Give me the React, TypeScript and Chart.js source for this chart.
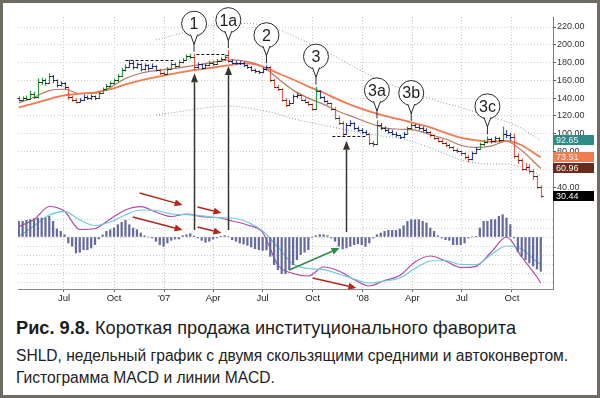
import React, { useEffect, useRef } from 'react';
import { Chart, registerables } from 'chart.js';
Chart.register(...registerables);

const FONT = '"Liberation Sans", Arial, Helvetica, sans-serif';
const FIRST_WEEK = 14; // weeks since 2006-01-01 of the first weekly bar

const monthTickWeeks = [25.86, 39, 52.14, 65, 78, 91.14, 104.29, 117.29, 130.29, 143.43];
const monthTickLabels = ['Jul', 'Oct', "'07", 'Apr', 'Jul', 'Oct', "'08", 'Apr', 'Jul', 'Oct'];
const priceTicks = [40, 60, 80, 100, 120, 140, 160, 180, 200, 220];
const macdGridTicks = [-45, -36, -27, -18, -9, 0, 9, 18];

const opens = [
  140, 138, 140, 139, 145, 141, 158, 160, 157, 165,
  160, 155, 157, 152, 141, 138, 136, 138, 141, 140,
  142, 140, 146, 150, 154, 157, 160, 165, 172, 175,
  180, 175, 178, 173, 177, 174, 176, 172, 168, 167,
  173, 178, 176, 181, 183, 187, 186, 175, 178, 174,
  177, 180, 178, 182, 184, 188, 182, 180, 179, 180,
  177, 175, 172, 170, 169, 173, 175, 160, 153, 150,
  138, 132, 135, 142, 143, 138, 136, 133, 128, 148,
  141, 137, 134, 128, 118, 112, 100, 110, 112, 106,
  104, 102, 100, 90, 88, 110, 106, 104, 102, 100,
  98, 96, 100, 106, 110, 108, 106, 104, 102, 98,
  95, 92, 90, 87, 85, 82, 80, 78, 74, 72,
  78, 83, 88, 91, 94, 92, 95, 93, 100, 98,
  96, 75, 70, 60, 63, 58, 52, 40,
];
const highs = [
  142, 142, 143, 148, 147, 162, 163, 162, 168, 166,
  161, 159, 158, 153, 143, 140, 140, 144, 143, 144,
  143, 148, 152, 156, 159, 162, 167, 174, 178, 183,
  182, 180, 179, 179, 178, 179, 177, 173, 170, 175,
  181, 180, 183, 185, 189, 190, 190, 180, 179, 179,
  182, 182, 184, 186, 189, 194, 184, 182, 182, 181,
  178, 176, 173, 171, 175, 177, 176, 162, 155, 151,
  140, 138, 144, 146, 144, 140, 137, 134, 153, 149,
  142, 138, 135, 130, 120, 114, 112, 115, 113, 108,
  106, 104, 101, 92, 115, 112, 108, 106, 104, 102,
  99, 102, 108, 112, 111, 110, 108, 106, 103, 99,
  96, 94, 91, 89, 86, 84, 81, 79, 76, 80,
  85, 90, 93, 97, 95, 97, 96, 108, 104, 101,
  100, 78, 72, 67, 66, 60, 53, 42,
];
const lows = [
  136, 137, 137, 138, 139, 140, 155, 154, 156, 157,
  152, 153, 150, 138, 136, 134, 135, 137, 138, 138,
  138, 139, 145, 148, 152, 155, 158, 164, 170, 174,
  172, 173, 170, 171, 171, 173, 170, 166, 165, 166,
  172, 174, 175, 179, 182, 184, 171, 173, 172, 173,
  176, 176, 177, 181, 183, 180, 178, 177, 177, 175,
  173, 170, 168, 167, 168, 171, 158, 151, 148, 136,
  130, 131, 134, 140, 137, 134, 131, 126, 127, 139,
  135, 132, 126, 116, 110, 96, 99, 108, 104, 102,
  100, 98, 87, 85, 87, 104, 102, 100, 98, 96,
  94, 95, 99, 104, 106, 104, 102, 100, 96, 93,
  90, 88, 85, 83, 80, 78, 75, 71, 68, 70,
  77, 82, 86, 89, 89, 90, 90, 92, 95, 92,
  72, 66, 58, 58, 55, 48, 38, 28,
];
const closes = [
  138, 140, 139, 145, 141, 158, 160, 157, 165, 160,
  155, 157, 152, 141, 138, 136, 138, 141, 140, 142,
  140, 146, 150, 154, 157, 160, 165, 172, 175, 180,
  175, 178, 173, 177, 174, 176, 172, 168, 167, 173,
  178, 176, 181, 183, 187, 186, 175, 178, 174, 177,
  180, 178, 182, 184, 186, 182, 180, 179, 180, 177,
  175, 172, 170, 169, 173, 175, 160, 153, 150, 138,
  132, 135, 142, 143, 138, 136, 133, 128, 148, 141,
  137, 134, 128, 118, 112, 100, 110, 112, 106, 104,
  102, 100, 90, 88, 110, 106, 104, 102, 100, 98,
  96, 100, 106, 110, 108, 106, 104, 102, 98, 95,
  92, 90, 87, 85, 82, 80, 78, 74, 72, 78,
  83, 88, 91, 94, 92, 95, 93, 100, 98, 96,
  75, 70, 60, 63, 58, 52, 40, 30.44,
];
// Elder impulse colour of each bar: g = green, b = blue, r = red
const impulse =
  'ggggggggg' + 'bbbb' + 'rrr' + 'bbbbb' + 'gggggggg' + 'bbbbbbbb' + 'rr' + 'ggggggg' + 'r' +
  'bbb' + 'ggggg' + 'r' + 'bbbbbbbbbb' + 'rrrrr' + 'bbb' + 'rrrr' + 'g' + 'bb' + 'rrrrr' +
  'bbbbbb' + 'rr' + 'g' + 'bbbbbbb' + 'gg' + 'bbbb' + 'rrrrrrrrrrr' + 'bb' + 'ggg' + 'bbb' +
  'g' + 'bb' + 'rrrrrrrr';

const lineBars = [0, 4, 8, 12, 16, 20, 24, 28, 32, 36, 40, 44, 48, 52, 56, 60, 64, 68, 72, 76, 80, 84, 88, 92, 96, 100, 104, 108, 112, 116, 120, 124, 128, 132, 136, 137];
const emaFast = [134.5, 141, 148.5, 150, 145, 145.5, 152, 162, 168, 171, 173, 175.5, 178, 181, 183, 181, 175.5, 162, 149, 140, 133, 125, 118.5, 112, 106.5, 105, 104, 99, 94, 87, 84.5, 86, 91.5, 81, 65, 60.96];
const emaSlow = [129.5, 134, 139, 143, 145, 146.5, 150, 155.5, 160, 163.5, 167, 170, 172.5, 175, 177.5, 179, 175.5, 168, 161, 153, 146, 138, 131, 125, 120, 116, 111.5, 107, 101, 95.5, 92.5, 91, 92, 87, 76, 73.51];
const envBars = [36, 40, 44, 48, 52, 56, 60, 64, 68, 72, 76, 80, 84, 88, 92, 96, 100, 104, 108, 112, 116, 120, 124, 128, 132, 136, 137];
const envUpper = [205.5, 210, 214.5, 220, 222.5, 223.5, 224, 222, 217.5, 210, 202, 194, 184.5, 175, 166, 158, 151.5, 145, 139.5, 134, 129.5, 124, 119, 113.5, 106, 95, 92.65];
const envLower = [121, 123.5, 126, 128.5, 130.5, 131, 129, 126, 122, 117, 113, 109.5, 106, 102.5, 99.5, 97, 95, 90, 84, 77, 70.5, 67, 66, 66, 62, 55, 53];

const macdLine = [10.5, 17.5, 30.5, 25.7, 7.5, 8.5, 18, 27, 30.3, 25, 20.5, 23, 20.3, 19.5, 16, 12, 4.5, -28, -36.5, -39, -30, -34, -42.5, -49, -43.5, -38.5, -25, -19, -24, -30.5, -29.3, -15, 0, -20, -40, -46];
const macdSignal = [0.5, 11, 22, 25.7, 17, 11.5, 15, 22, 27, 26.5, 23, 22.3, 21.2, 19.3, 19, 15, 6, -10, -27, -31.5, -32.7, -37, -42, -46, -44, -41, -31.5, -24, -23.5, -27.5, -27.7, -17.5, -9, -12, -25, -27.7];
const macdHist = [
  15.7, 15.7, 16.7, 17.3, 18.3, 19, 19, 19, 20.7, 15.7,
  8, 5.7, 2.3, -6, -9.3, -16, -15.3, -12.7, -12.7, -11,
  -7.7, -2, 2, 5.7, 7.3, 9, 12.3, 14.7, 16.7, 12.3,
  9, 7.3, 4, 1.3, 0, -1, -4.3, -7.7, -9.3, -6,
  -3.3, -2, -2, 1.3, 2.3, 3.3, 1, -1, -3.3, -5.3,
  -4.3, -2, -1, 0.7, 1.3, 0.5, -2.7, -4.3, -6, -7,
  -8.3, -10, -11.7, -12.7, -13.3, -13, -19.3, -27.7, -32.7, -36.7,
  -36.7, -32.7, -27.7, -22.7, -17.7, -15.3, -12.7, -0.5, 1.3, 2.3,
  2.3, 1.3, -1, -4.3, -9.3, -12, -11, -9.3, -7.7, -6.7,
  -7.7, -9.3, -6, -1, 2.3, 4, 5.7, 6.7, 6.7, 6.7,
  8, 11.3, 15.7, 17.3, 17.3, 17.3, 15.7, 14, 9, 5.7,
  1.3, -1, -2.7, -3.3, -7.7, -7.7, -7.7, -6, -1, 0,
  0.7, 9, 15.7, 15.7, 17.3, 17.3, 20.7, 22.3, 19, 12.3,
  -1, -15, -19.3, -22.7, -26, -29, -32, -34.3,
];

const callouts = [
  { label: '1', bar: 46 }, { label: '1a', bar: 55 }, { label: '2', bar: 65 }, { label: '3', bar: 78 },
  { label: '3a', bar: 94 }, { label: '3b', bar: 103 }, { label: '3c', bar: 123 },
];
const levelLines = [
  { from: 28, to: 41, price: 183 },
  { from: 46.6, to: 54.5, price: 190 },
  { from: 82.3, to: 91.3, price: 97 },
];
const pointerArrows = [
  { bar: 46, price: 168, macd: 7 },
  { bar: 55, price: 176, macd: 7 },
  { bar: 86, price: 92, macd: 5 },
];
const RED = '#b3281c';
const GREEN = '#2f8a4a';
const trendArrows = [
  { b1: 31.7, m1: 44, b2: 43, m2: 32, color: RED },
  { b1: 29.9, m1: 20, b2: 43, m2: 7, color: RED },
  { b1: 46.9, m1: 30, b2: 53.2, m2: 24, color: RED },
  { b1: 46.9, m1: 10, b2: 53.2, m2: 4, color: RED },
  { b1: 77.1, m1: -41, b2: 88.6, m2: -51, color: RED },
  { b1: 71, m1: -33, b2: 84.2, m2: -11, color: GREEN },
];
const lastLabels = [
  { value: envUpper[envUpper.length - 1], bg: '#2e8c86' },
  { value: emaSlow[emaSlow.length - 1], bg: '#f07c50' },
  { value: emaFast[emaFast.length - 1], bg: '#6b2b1c' },
  { value: closes[closes.length - 1], bg: '#000000' },
];

const barColors: Record<string, string> = { g: '#2f9a44', b: '#3848a8', r: '#e8604c' };

function drawArrow(ctx: CanvasRenderingContext2D, x1: number, y1: number, x2: number, y2: number,
  color: string, width: number, headLen: number, headHalf: number) {
  const ang = Math.atan2(y2 - y1, x2 - x1);
  const bx = x2 - headLen * Math.cos(ang);
  const by = y2 - headLen * Math.sin(ang);
  ctx.strokeStyle = color;
  ctx.lineWidth = width;
  ctx.setLineDash([]);
  ctx.beginPath();
  ctx.moveTo(x1, y1);
  ctx.lineTo(bx, by);
  ctx.stroke();
  ctx.fillStyle = color;
  ctx.beginPath();
  ctx.moveTo(x2, y2);
  ctx.lineTo(bx + headHalf * Math.sin(ang), by - headHalf * Math.cos(ang));
  ctx.lineTo(bx - headHalf * Math.sin(ang), by + headHalf * Math.cos(ang));
  ctx.closePath();
  ctx.fill();
}

const ohlcPlugin = {
  id: 'ohlc',
  afterDatasetsDraw(chart: any) {
    const { ctx, scales } = chart;
    const x = scales.x, yp = scales.yp;
    ctx.save();
    for (let i = 0; i < closes.length; i++) {
      const px = Math.round(x.getPixelForValue(FIRST_WEEK + i)) + 0.5;
      const yh = yp.getPixelForValue(highs[i]);
      const yl = yp.getPixelForValue(lows[i]);
      const yo = Math.round(yp.getPixelForValue(opens[i])) + 0.5;
      const yc = Math.round(yp.getPixelForValue(closes[i])) + 0.5;
      ctx.strokeStyle = barColors[impulse[i]] || '#333';
      ctx.lineWidth = 1.2;
      ctx.beginPath();
      ctx.moveTo(px, yh);
      ctx.lineTo(px, yl);
      ctx.stroke();
      ctx.strokeStyle = '#1a1a1a';
      ctx.lineWidth = 1;
      ctx.beginPath();
      ctx.moveTo(px - 2, yo);
      ctx.lineTo(px, yo);
      ctx.moveTo(px, yc);
      ctx.lineTo(px + 2, yc);
      ctx.stroke();
    }
    ctx.restore();
  },
};

const annotationPlugin = {
  id: 'annotations',
  afterDraw(chart: any) {
    const { ctx, scales } = chart;
    const x = scales.x, yp = scales.yp, ym = scales.ym;
    const bx = (b: number) => x.getPixelForValue(FIRST_WEEK + b);
    ctx.save();

    // dashed level lines
    ctx.strokeStyle = '#111';
    ctx.lineWidth = 1;
    ctx.setLineDash([3, 2]);
    for (const l of levelLines) {
      const y = Math.round(yp.getPixelForValue(l.price)) + 0.5;
      ctx.beginPath();
      ctx.moveTo(bx(l.from), y);
      ctx.lineTo(bx(l.to), y);
      ctx.stroke();
    }
    ctx.setLineDash([]);

    // vertical pointer arrows from MACD to price
    for (const a of pointerArrows) {
      const px = Math.round(bx(a.bar)) + 0.5;
      drawArrow(ctx, px, ym.getPixelForValue(a.macd), px, yp.getPixelForValue(a.price), '#3a332c', 1.5, 9, 3.5);
    }

    // divergence arrows in MACD pane
    for (const a of trendArrows) {
      drawArrow(ctx, bx(a.b1), ym.getPixelForValue(a.m1), bx(a.b2), ym.getPixelForValue(a.m2), a.color, 1.5, 8, 3.5);
    }

    // callouts
    for (const c of callouts) {
      const cx = bx(c.bar);
      const top = yp.getPixelForValue(highs[c.bar]);
      const r = 12.5;
      const cy = top - 30;
      ctx.strokeStyle = '#2a2a2a';
      ctx.lineWidth = 1;
      ctx.beginPath();
      ctx.moveTo(cx, cy + r + 6);
      ctx.lineTo(cx, top - 2);
      ctx.stroke();
      ctx.beginPath();
      ctx.arc(cx, cy, r, 0, Math.PI * 2);
      ctx.fillStyle = '#fff';
      ctx.fill();
      ctx.stroke();
      ctx.beginPath();
      ctx.moveTo(cx - 3.5, cy + r - 1.5);
      ctx.lineTo(cx, cy + r + 8);
      ctx.lineTo(cx + 3.5, cy + r - 1.5);
      ctx.fill();
      ctx.stroke();
      ctx.fillStyle = '#1e1e1e';
      ctx.font = `16px ${FONT}`;
      ctx.textAlign = 'center';
      ctx.textBaseline = 'middle';
      ctx.fillText(c.label, cx, cy + 1);
    }

    // last-value boxes on the price axis
    const left = chart.chartArea.right;
    ctx.font = `9px ${FONT}`;
    ctx.textAlign = 'left';
    ctx.textBaseline = 'middle';
    for (const l of lastLabels) {
      const y = yp.getPixelForValue(l.value);
      ctx.fillStyle = l.bg;
      ctx.fillRect(left, Math.round(y - 5), 41, 10);
      ctx.fillStyle = '#f4f4f4';
      ctx.fillText(l.value.toFixed(2), left + 3, Math.round(y) + 0.5);
    }
    ctx.restore();
  },
};

export default function App() {
  const ref = useRef<HTMLCanvasElement>(null);
  useEffect(() => {
    document.body.style.margin = '0';
    const pts = (bars: number[], vals: number[]) => bars.map((b, k) => ({ x: FIRST_WEEK + b, y: vals[k] }));
    const lineDs = (data: any[], color: string, width: number, axis: string, dash: number[] = []) => ({
      type: 'line',
      data,
      yAxisID: axis,
      borderColor: color,
      borderWidth: width,
      borderDash: dash,
      pointRadius: 0,
      fill: false,
      cubicInterpolationMode: 'monotone',
    });
    const chart = new Chart(ref.current as HTMLCanvasElement, {
      type: 'line',
      data: {
        datasets: [
          {
            type: 'bar',
            data: macdHist.map((v, i) => ({ x: FIRST_WEEK + i, y: v })),
            yAxisID: 'ym',
            backgroundColor: '#676b9c',
            barThickness: 1.6,
            grouped: false,
          } as any,
          lineDs(pts(lineBars, macdSignal), '#6ccbe0', 1.2, 'ym'),
          lineDs(pts(lineBars, macdLine), '#b04aa8', 1.2, 'ym'),
          lineDs(pts(envBars, envUpper), '#7f9eab', 1, 'yp', [1, 2]),
          lineDs(pts(envBars, envLower), '#7f9eab', 1, 'yp', [1, 2]),
          lineDs(pts(lineBars, emaSlow), '#f27a52', 1.8, 'yp'),
          lineDs(pts(lineBars, emaFast), '#b9775f', 1.2, 'yp'),
        ] as any,
      },
      options: {
        responsive: false,
        animation: false,
        devicePixelRatio: 1,
        layout: { padding: { left: 18, top: 17, right: 0, bottom: 0 } },
        plugins: { legend: { display: false }, tooltip: { enabled: false } },
        scales: {
          x: {
            type: 'linear',
            min: 13.79,
            max: 154.21,
            offset: false,
            afterBuildTicks: (s: any) => { s.ticks = monthTickWeeks.map((v) => ({ value: v })); },
            afterFit: (s: any) => { s.height = 21; },
            ticks: {
              autoSkip: false,
              maxRotation: 0,
              padding: 1,
              color: '#222',
              font: { size: 9.5, family: FONT },
              callback: (_v: any, i: number) => monthTickLabels[i],
            },
            grid: { color: '#c9c9c9', tickLength: 3, tickColor: '#666', offset: false },
            border: { color: '#8c8c8c', dash: [1, 2] },
          },
          yp: {
            position: 'right',
            min: -74.7,
            max: 231.25,
            afterBuildTicks: (s: any) => { s.ticks = priceTicks.map((v) => ({ value: v })); },
            afterFit: (s: any) => { s.width = 47; },
            ticks: {
              padding: 1,
              color: '#333',
              font: { size: 9, family: FONT },
              callback: (v: any) => Number(v).toFixed(2),
            },
            grid: { color: '#d0d0d0', tickLength: 3, tickColor: '#555' },
            border: { color: '#7a7a7a', dash: [1, 2] },
          },
          ym: {
            position: 'left',
            min: -52,
            max: 220,
            afterBuildTicks: (s: any) => { s.ticks = macdGridTicks.map((v) => ({ value: v })); },
            afterFit: (s: any) => { s.width = 0; },
            ticks: { display: false },
            grid: { color: '#d0d0d0', drawTicks: false },
            border: { display: false, dash: [1, 2] },
          },
        },
      } as any,
      plugins: [ohlcPlugin, annotationPlugin],
    } as any);
    return () => chart.destroy();
  }, []);

  return (
    <div
      style={{
        position: 'relative',
        width: 600,
        height: 398,
        boxSizing: 'border-box',
        border: '3px solid #6e6c60',
        background: '#fff',
        overflow: 'hidden',
        fontFamily: FONT,
      }}
    >
      <canvas ref={ref} width={600} height={310} style={{ position: 'absolute', left: -3, top: -3, width: 600, height: 310 }} />
      <div style={{ position: 'absolute', left: 13, top: 315, fontSize: 18.2, lineHeight: '20px', color: '#1c1c1c', whiteSpace: 'nowrap' }}>
        <b>Рис. 9.8.</b> Короткая продажа институционального фаворита
      </div>
      <div style={{ position: 'absolute', left: 13, top: 344, fontSize: 15.6, lineHeight: '18px', color: '#222', whiteSpace: 'nowrap' }}>
        SHLD, недельный график с двумя скользящими средними и автоконвертом.
      </div>
      <div style={{ position: 'absolute', left: 13, top: 366, fontSize: 15.6, lineHeight: '18px', color: '#222', whiteSpace: 'nowrap' }}>
        Гистограмма MACD и линии MACD.
      </div>
    </div>
  );
}
